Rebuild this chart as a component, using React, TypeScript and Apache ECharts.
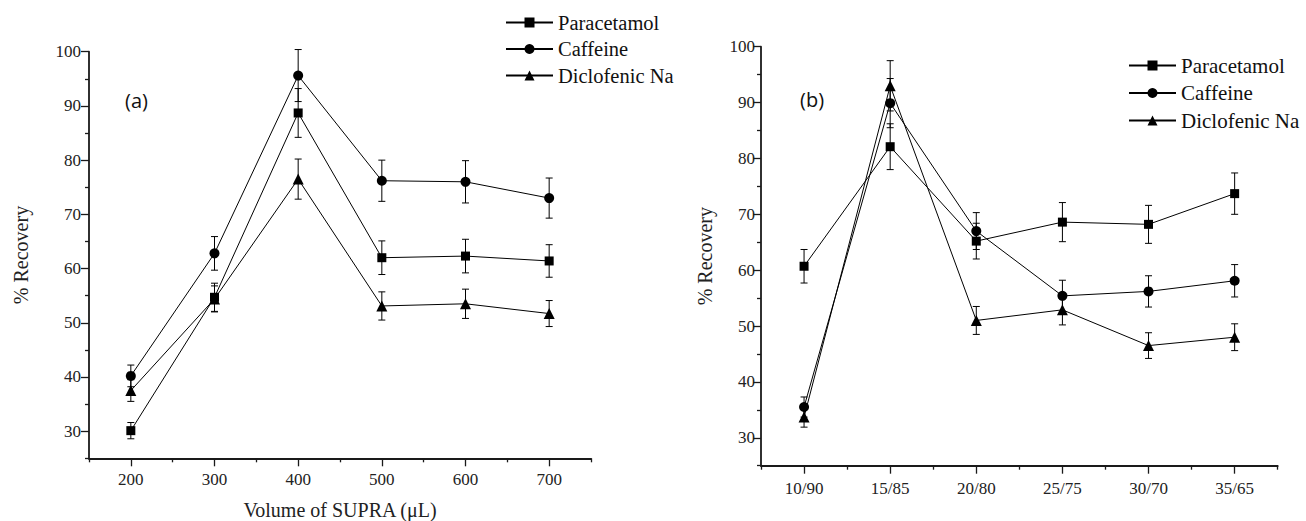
import React, { useEffect, useRef } from "react";
import * as echarts from "echarts";

// ---- data ----
const volumes = [200, 300, 400, 500, 600, 700];
const ratios = ["10/90", "15/85", "20/80", "25/75", "30/70", "35/65"];

const paraA = [30.1, 54.7, 88.7, 62.0, 62.3, 61.4];
const paraAErr = [1.5, 2.6, 4.5, 3.1, 3.1, 3.0];
const cafA = [40.2, 62.8, 95.6, 76.2, 76.0, 73.0];
const cafAErr = [2.0, 3.1, 4.8, 3.8, 3.9, 3.7];
const dicA = [37.5, 54.4, 76.5, 53.1, 53.5, 51.7];
const dicAErr = [2.0, 2.4, 3.7, 2.6, 2.7, 2.4];

const paraB = [60.7, 82.1, 65.2, 68.6, 68.2, 73.7];
const paraBErr = [3.0, 4.1, 3.2, 3.5, 3.4, 3.7];
const cafB = [35.5, 89.9, 67.0, 55.4, 56.2, 58.1];
const cafBErr = [1.8, 4.4, 3.3, 2.8, 2.8, 2.9];
const dicB = [33.7, 93.0, 51.0, 52.9, 46.5, 48.0];
const dicBErr = [1.8, 4.5, 2.5, 2.7, 2.3, 2.4];

const xMajorA = [200, 300, 400, 500, 600, 700];
const xMinorA = [150, 250, 350, 450, 550, 650, 750];
const yMajor = [30, 40, 50, 60, 70, 80, 90, 100];
const yMinor = [25, 35, 45, 55, 65, 75, 85, 95];

const names = ["Paracetamol", "Caffeine", "Diclofenic Na"];

const SERIF = "Liberation Serif";
const AX = "#1a1a1a";

function errData(xs: any[], ys: number[], es: number[]) {
  return ys.map((y, i) => [xs[i], +(y - es[i]).toFixed(2), +(y + es[i]).toFixed(2)]);
}

const renderErr = (params: any, api: any) => {
  const x = api.value(0);
  const lo = api.value(1);
  const hi = api.value(2);
  const t = api.coord([x, hi]);
  const b = api.coord([x, lo]);
  const w = 3.5;
  const st = { stroke: "#000", lineWidth: 1 };
  return {
    type: "group",
    children: [
      { type: "line", shape: { x1: t[0], y1: t[1], x2: b[0], y2: b[1] }, style: st },
      { type: "line", shape: { x1: t[0] - w, y1: t[1], x2: t[0] + w, y2: t[1] }, style: st },
      { type: "line", shape: { x1: b[0] - w, y1: b[1], x2: b[0] + w, y2: b[1] }, style: st },
    ],
  };
};

export default function App() {
  const ref = useRef<HTMLDivElement>(null);
  useEffect(() => {
    if (!ref.current) return;
    const chart = echarts.init(ref.current, null, { renderer: "svg" });
    const symbols = ["rect", "circle", "triangle"];
    const sizes = [9, 10, 11];
    const setsA = [
      [paraA, paraAErr],
      [cafA, cafAErr],
      [dicA, dicAErr],
    ];
    const setsB = [
      [paraB, paraBErr],
      [cafB, cafBErr],
      [dicB, dicBErr],
    ];
    const series: any[] = [];
    setsA.forEach(([v, e], i) => {
      series.push({
        type: "custom",
        name: "errA" + i,
        xAxisIndex: 0,
        yAxisIndex: 0,
        renderItem: renderErr,
        encode: { x: 0, y: [1, 2] },
        data: errData(volumes, v as number[], e as number[]),
        silent: true,
        z: 1,
      });
      series.push({
        type: "line",
        name: names[i],
        xAxisIndex: 0,
        yAxisIndex: 0,
        data: (v as number[]).map((y, k) => [volumes[k], y]),
        symbol: symbols[i],
        symbolSize: sizes[i],
        lineStyle: { color: "#000", width: 1 },
        itemStyle: { color: "#000" },
        z: 2,
      });
    });
    setsB.forEach(([v, e], i) => {
      series.push({
        type: "custom",
        name: "errB" + i,
        xAxisIndex: 2,
        yAxisIndex: 2,
        renderItem: renderErr,
        encode: { x: 0, y: [1, 2] },
        data: errData(ratios.map((_, k) => k), v as number[], e as number[]),
        silent: true,
        z: 1,
      });
      series.push({
        type: "line",
        name: names[i],
        xAxisIndex: 2,
        yAxisIndex: 2,
        data: v as number[],
        symbol: symbols[i],
        symbolSize: sizes[i],
        lineStyle: { color: "#000", width: 1 },
        itemStyle: { color: "#000" },
        z: 2,
      });
    });

    const axisLine = { show: true, onZero: false, lineStyle: { color: AX, width: 1.8 } };
    const labelStyle = { fontFamily: SERIF, fontSize: 17, color: "#222" };
    const yName = {
      name: "% Recovery",
      nameLocation: "middle",
      nameRotate: 90,
      nameTextStyle: { fontFamily: SERIF, fontSize: 20, color: "#222" },
    };

    const makeY = (grid: number, major: boolean, gap: number, margin: number) =>
      major
        ? {
            type: "value",
            gridIndex: grid,
            position: "left",
            min: 25,
            max: 100,
            ...yName,
            nameGap: gap,
            axisLine,
            axisTick: { show: true, length: 8, customValues: yMajor, lineStyle: { color: AX, width: 1.3 } },
            axisLabel: { show: true, customValues: yMajor, margin, ...labelStyle },
            splitLine: { show: false },
          }
        : {
            type: "value",
            gridIndex: grid,
            position: "left",
            offset: 0,
            min: 25,
            max: 100,
            axisLine: { show: false, onZero: false },
            axisTick: { show: true, length: 4, customValues: yMinor, lineStyle: { color: AX, width: 1.3 } },
            axisLabel: { show: false },
            splitLine: { show: false },
          };

    const option: any = {
      animation: false,
      backgroundColor: "#fff",
      textStyle: { fontFamily: SERIF },
      grid: [
        { left: 89, top: 51.7, width: 502, height: 406.6, outerBoundsMode: "none" },
        { left: 761, top: 46.7, width: 516.7, height: 419, outerBoundsMode: "none" },
      ],
      xAxis: [
        {
          type: "value",
          gridIndex: 0,
          position: "bottom",
          min: 150,
          max: 750,
          axisLine,
          axisTick: { show: true, length: 4, customValues: xMinorA, lineStyle: { color: AX, width: 1.3 } },
          axisLabel: { show: false },
          splitLine: { show: false },
        },
        {
          type: "value",
          gridIndex: 0,
          position: "bottom",
          offset: 0,
          min: 150,
          max: 750,
          name: "Volume of SUPRA (\u03bcL)",
          nameLocation: "middle",
          nameGap: 42,
          nameTextStyle: { fontFamily: SERIF, fontSize: 20, color: "#222" },
          axisLine: { show: false, onZero: false },
          axisTick: { show: true, length: 8, customValues: xMajorA, lineStyle: { color: AX, width: 1.3 } },
          axisLabel: { show: true, customValues: xMajorA, margin: 13, ...labelStyle },
          splitLine: { show: false },
        },
        {
          type: "category",
          gridIndex: 1,
          position: "bottom",
          data: ratios,
          boundaryGap: true,
          axisLine,
          axisTick: { show: true, length: 4, alignWithLabel: false, lineStyle: { color: AX, width: 1.3 } },
          axisLabel: { show: false },
          splitLine: { show: false },
        },
        {
          type: "category",
          gridIndex: 1,
          position: "bottom",
          offset: 0,
          data: ratios,
          boundaryGap: true,
          axisLine: { show: false, onZero: false },
          axisTick: { show: true, length: 8, alignWithLabel: true, lineStyle: { color: AX, width: 1.3 } },
          axisLabel: { show: true, margin: 14, interval: 0, ...labelStyle },
          splitLine: { show: false },
        },
      ],
      yAxis: [makeY(0, true, 58, 8), makeY(0, false, 0, 0), makeY(1, true, 46, 6), makeY(1, false, 0, 0)],
      legend: [
        {
          data: names,
          orient: "vertical",
          left: 505,
          top: 12,
          padding: 0,
          itemWidth: 47,
          itemHeight: 12.5,
          itemGap: 5.5,
          textStyle: { fontFamily: SERIF, fontSize: 20.5, color: "#111" },
          selectedMode: false,
        },
        {
          data: names,
          orient: "vertical",
          left: 1128,
          top: 55,
          padding: 0,
          itemWidth: 47,
          itemHeight: 12.5,
          itemGap: 6.5,
          textStyle: { fontFamily: SERIF, fontSize: 21, color: "#111" },
          selectedMode: false,
        },
      ],
      graphic: [
        {
          type: "text",
          left: 125,
          top: 90,
          style: { text: "(a)", fontFamily: "Open Sans", fontSize: 20, fill: "#111" },
        },
        {
          type: "text",
          left: 800,
          top: 89,
          style: { text: "(b)", fontFamily: "Open Sans", fontSize: 20, fill: "#111" },
        },
      ],
      series,
    };
    chart.setOption(option);
    return () => chart.dispose();
  }, []);
  return (
    <div
      ref={ref}
      style={{ position: "fixed", left: 0, top: 0, width: 1306, height: 521, background: "#fff" }}
    />
  );
}
